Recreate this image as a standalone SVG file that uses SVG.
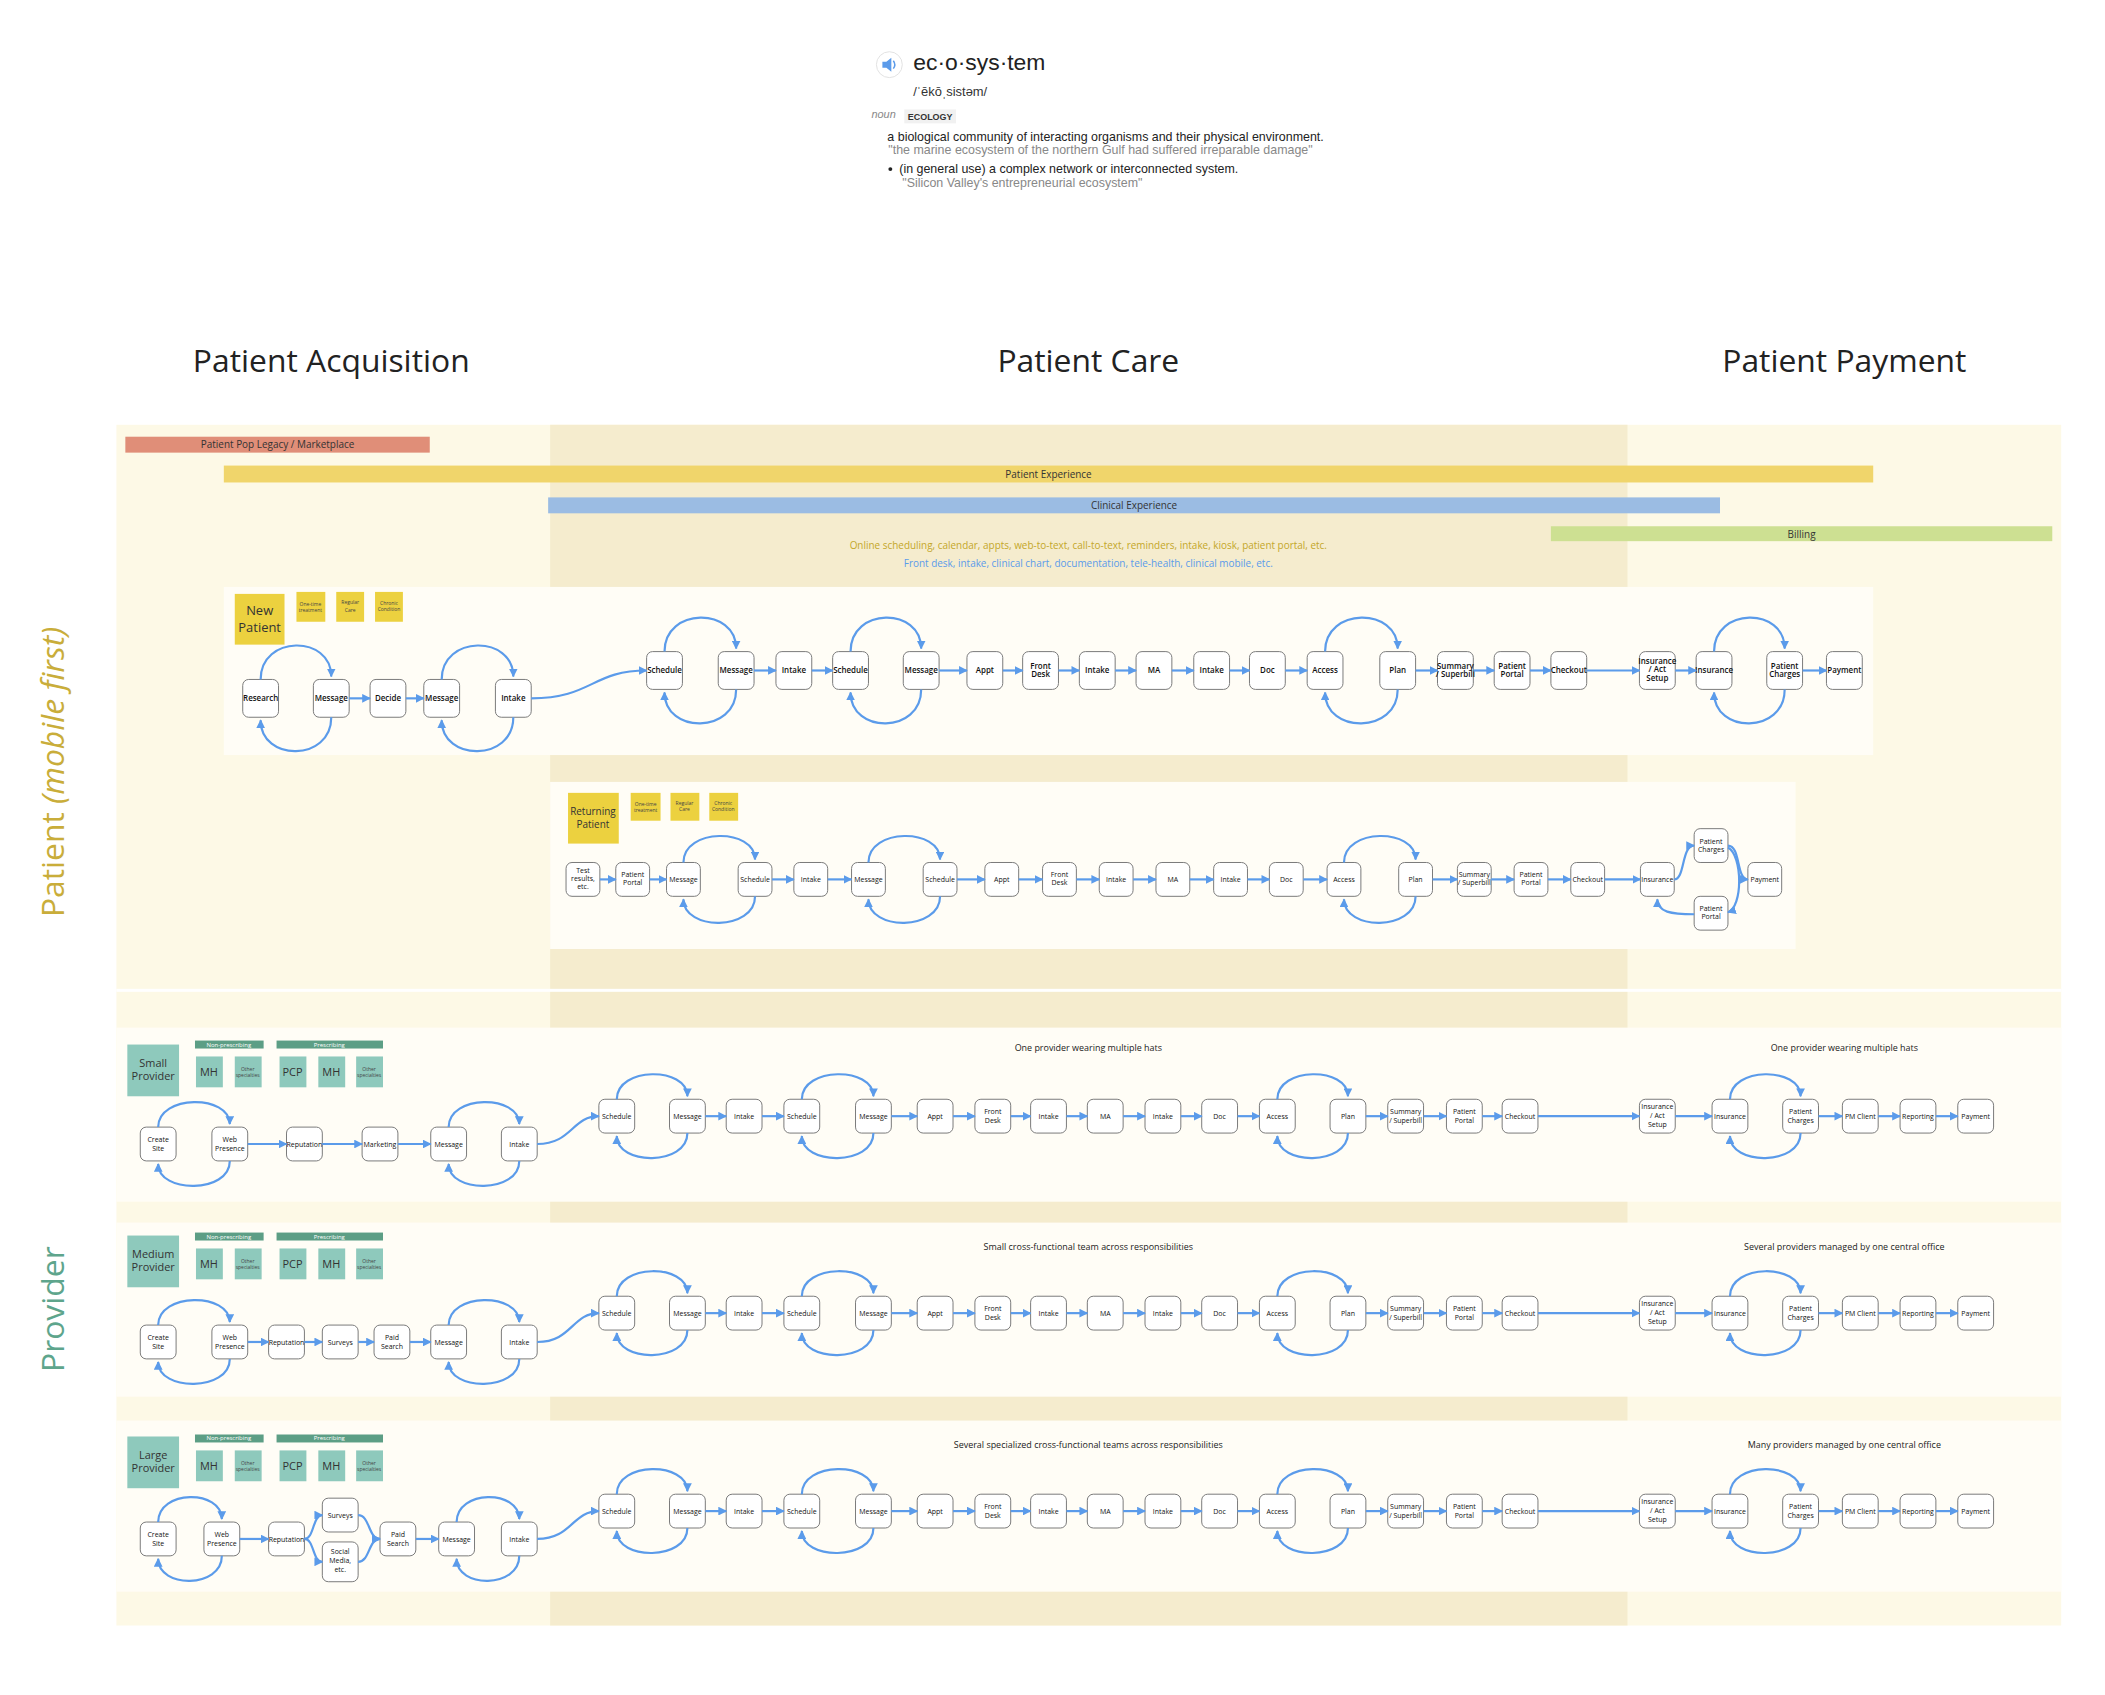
<svg xmlns="http://www.w3.org/2000/svg" width="2105" height="1695" viewBox="0 0 2105 1695">
<style>
text{font-family:"Open Sans","Liberation Sans",sans-serif}
.n rect{fill:#fff;stroke:#7a7a7a;stroke-width:1}
.n text{font-size:7px;fill:#111;text-anchor:middle}
.b text{font-size:8px;font-weight:600}
.c path{fill:none;stroke:#5b9bea;stroke-width:2.2;marker-end:url(#a)}
.st{fill:#ecd13f}
.tl{fill:#8ec9bc}
.tb{fill:#5c9e85}
.sm{font-size:5px;fill:#444;text-anchor:middle}
.md{font-size:11px;fill:#333;text-anchor:middle}
.bt{font-size:6px;fill:#fff;text-anchor:middle}
.lbl{font-size:10px;fill:#333;text-anchor:middle}
.hd{font-size:32px;fill:#222;text-anchor:middle}
.def{font-family:"Liberation Sans",Arial,sans-serif}
</style>
<defs>
<marker id="a" viewBox="0 0 10 10" refX="9" refY="5" markerWidth="4" markerHeight="4" orient="auto"><path d="M0,0L10,5L0,10z" fill="#5b9bea"/></marker>
</defs>
<rect width="2105" height="1695" fill="#fff"/>
<g transform="scale(0.9948)">
<g id="definition" class="def">
<circle cx="894" cy="65" r="13" fill="#fff" stroke="#e2e2e2"/>
<path d="M887,62h4l5,-4v14l-5,-4h-4z" fill="#5b9bea"/>
<path d="M898,61q3,4 0,8" fill="none" stroke="#5b9bea" stroke-width="1.5"/>
<text x="918" y="70" font-size="23" fill="#222" class="def">ec·o·sys·tem</text>
<text x="918" y="97" font-size="13" fill="#333" class="def">/ˈēkōˌsistəm/</text>
<text x="876" y="119" font-size="11" font-style="italic" fill="#888" class="def">noun</text>
<rect x="909" y="110" width="52" height="14" fill="#f1f1f1"/>
<text x="935" y="121" font-size="9" font-weight="bold" fill="#333" text-anchor="middle" class="def">ECOLOGY</text>
<text x="892" y="142" font-size="12.5" fill="#222" class="def">a biological community of interacting organisms and their physical environment.</text>
<text x="893" y="155" font-size="12.5" fill="#888" class="def">"the marine ecosystem of the northern Gulf had suffered irreparable damage"</text>
<circle cx="895" cy="170" r="2" fill="#222"/>
<text x="904" y="174" font-size="12.5" fill="#222" class="def">(in general use) a complex network or interconnected system.</text>
<text x="907" y="188" font-size="12.5" fill="#888" class="def">"Silicon Valley's entrepreneurial ecosystem"</text>
</g>
<g id="headers">
<text class="hd" x="333" y="374">Patient Acquisition</text>
<text class="hd" x="1094" y="374">Patient Care</text>
<text class="hd" x="1854" y="374">Patient Payment</text>
<text transform="translate(64,776) rotate(-90)" font-size="32" fill="#c9ad3a" text-anchor="middle">Patient <tspan font-style="italic">(mobile first)</tspan></text>
<text transform="translate(64,1316) rotate(-90)" font-size="32" fill="#5ea58c" text-anchor="middle">Provider</text>
</g>
<g id="background">
<rect x="117" y="427" width="1955" height="1207" fill="#fdf9e6"/>
<rect x="553" y="427" width="1083" height="1207" fill="#f5ecce"/>
<rect x="117" y="994" width="1955" height="3" fill="#fff"/>
<rect x="225" y="590" width="1658" height="169" fill="#fffdf6"/>
<rect x="553" y="786" width="1252" height="168" fill="#fffdf6"/>
<rect x="117" y="1033" width="1955" height="175" fill="#fffdf6"/>
<rect x="117" y="1229" width="1955" height="175" fill="#fffdf6"/>
<rect x="117" y="1428" width="1955" height="172" fill="#fffdf6"/>
</g>
<g id="bars">
<rect x="126" y="439" width="306" height="16" fill="#e08e78"/>
<text class="lbl" x="279" y="450">Patient Pop Legacy / Marketplace</text>
<rect x="225" y="468" width="1658" height="17" fill="#f0d56b"/>
<text class="lbl" x="1054" y="480">Patient Experience</text>
<rect x="551" y="500" width="1178" height="16" fill="#9bbce3"/>
<text class="lbl" x="1140" y="512">Clinical Experience</text>
<rect x="1559" y="529" width="504" height="15" fill="#cde092"/>
<text class="lbl" x="1811" y="541">Billing</text>
<text x="1094" y="552" font-size="10" fill="#c4a72a" text-anchor="middle">Online scheduling, calendar, appts, web-to-text, call-to-text, reminders, intake, kiosk, patient portal, etc.</text>
<text x="1094" y="570" font-size="10" fill="#5b9bea" text-anchor="middle">Front desk, intake, clinical chart, documentation, tele-health, clinical mobile, etc.</text>
<text x="1094" y="1056" font-size="9" fill="#222" text-anchor="middle">One provider wearing multiple hats</text>
<text x="1854" y="1056" font-size="9" fill="#222" text-anchor="middle">One provider wearing multiple hats</text>
<text x="1094" y="1257" font-size="9" fill="#222" text-anchor="middle">Small cross-functional team across responsibilities</text>
<text x="1854" y="1257" font-size="9" fill="#222" text-anchor="middle">Several providers managed by one central office</text>
<text x="1094" y="1456" font-size="9" fill="#222" text-anchor="middle">Several specialized cross-functional teams across responsibilities</text>
<text x="1854" y="1456" font-size="9" fill="#222" text-anchor="middle">Many providers managed by one central office</text>
</g>
<g id="stickies">
<rect class="st" x="236" y="597" width="50" height="51"/><text x="261" y="618" font-size="13" fill="#333" text-anchor="middle">New<tspan x="261" dy="17">Patient</tspan></text>
<rect class="st" x="298" y="595" width="29" height="30"/><text class="sm" x="312" y="609">One-time<tspan x="312" dy="6">treatment</tspan></text>
<rect class="st" x="338" y="595" width="28" height="30"/><text class="sm" x="352" y="607" font-size="7">Regular<tspan x="352" dy="8">Care</tspan></text>
<rect class="st" x="377" y="595" width="28" height="30"/><text class="sm" x="391" y="608">Chronic<tspan x="391" dy="6">Condition</tspan></text>
<rect class="st" x="571" y="797" width="51" height="51"/><text x="596" y="819" font-size="10" fill="#333" text-anchor="middle">Returning<tspan x="596" dy="13">Patient</tspan></text>
<rect class="st" x="634" y="797" width="30" height="28"/><text class="sm" x="649" y="810">One-time<tspan x="649" dy="6">treatment</tspan></text>
<rect class="st" x="674" y="797" width="29" height="28"/><text class="sm" x="688" y="809">Regular<tspan x="688" dy="6">Care</tspan></text>
<rect class="st" x="713" y="797" width="29" height="28"/><text class="sm" x="727" y="809">Chronic<tspan x="727" dy="6">Condition</tspan></text>
</g>
<g id="provider-stickies">
<g id="ps-small">
<rect class="tl" x="128" y="1050" width="52" height="52"/><text class="md" x="154" y="1073">Small<tspan x="154" dy="13">Provider</tspan></text>
<rect class="tb" x="196" y="1046" width="69" height="8"/><text class="bt" x="230" y="1052">Non-prescribing</text>
<rect class="tb" x="278" y="1046" width="107" height="8"/><text class="bt" x="331" y="1052">Prescribing</text>
<rect class="tl" x="197" y="1062" width="27" height="31"/><text class="md" x="210" y="1082">MH</text>
<rect class="tl" x="236" y="1062" width="27" height="31"/><text class="sm" x="249" y="1077">Other<tspan x="249" dy="6">specialties</tspan></text>
<rect class="tl" x="281" y="1062" width="27" height="31"/><text class="md" x="294" y="1082">PCP</text>
<rect class="tl" x="320" y="1062" width="27" height="31"/><text class="md" x="333" y="1082">MH</text>
<rect class="tl" x="358" y="1062" width="27" height="31"/><text class="sm" x="371" y="1077">Other<tspan x="371" dy="6">specialties</tspan></text>
</g>
<g id="ps-medium">
<rect class="tl" x="128" y="1242" width="52" height="52"/><text class="md" x="154" y="1265">Medium<tspan x="154" dy="13">Provider</tspan></text>
<rect class="tb" x="196" y="1239" width="69" height="8"/><text class="bt" x="230" y="1245">Non-prescribing</text>
<rect class="tb" x="278" y="1239" width="107" height="8"/><text class="bt" x="331" y="1245">Prescribing</text>
<rect class="tl" x="197" y="1255" width="27" height="31"/><text class="md" x="210" y="1275">MH</text>
<rect class="tl" x="236" y="1255" width="27" height="31"/><text class="sm" x="249" y="1270">Other<tspan x="249" dy="6">specialties</tspan></text>
<rect class="tl" x="281" y="1255" width="27" height="31"/><text class="md" x="294" y="1275">PCP</text>
<rect class="tl" x="320" y="1255" width="27" height="31"/><text class="md" x="333" y="1275">MH</text>
<rect class="tl" x="358" y="1255" width="27" height="31"/><text class="sm" x="371" y="1270">Other<tspan x="371" dy="6">specialties</tspan></text>
</g>
<g id="ps-large">
<rect class="tl" x="128" y="1444" width="52" height="52"/><text class="md" x="154" y="1467">Large<tspan x="154" dy="13">Provider</tspan></text>
<rect class="tb" x="196" y="1442" width="69" height="8"/><text class="bt" x="230" y="1448">Non-prescribing</text>
<rect class="tb" x="278" y="1442" width="107" height="8"/><text class="bt" x="331" y="1448">Prescribing</text>
<rect class="tl" x="197" y="1458" width="27" height="31"/><text class="md" x="210" y="1478">MH</text>
<rect class="tl" x="236" y="1458" width="27" height="31"/><text class="sm" x="249" y="1473">Other<tspan x="249" dy="6">specialties</tspan></text>
<rect class="tl" x="281" y="1458" width="27" height="31"/><text class="md" x="294" y="1478">PCP</text>
<rect class="tl" x="320" y="1458" width="27" height="31"/><text class="md" x="333" y="1478">MH</text>
<rect class="tl" x="358" y="1458" width="27" height="31"/><text class="sm" x="371" y="1473">Other<tspan x="371" dy="6">specialties</tspan></text>
</g>
</g>
<g id="new-patient-nodes" class="n b">
<g id="np1"><rect x="244" y="683" width="36" height="38" rx="6"/><text x="262" y="705">Research</text></g>
<g id="np2"><rect x="315" y="683" width="36" height="38" rx="6"/><text x="333" y="705">Message</text></g>
<g id="np3"><rect x="372" y="683" width="36" height="38" rx="6"/><text x="390" y="705">Decide</text></g>
<g id="np4"><rect x="426" y="683" width="36" height="38" rx="6"/><text x="444" y="705">Message</text></g>
<g id="np5"><rect x="498" y="683" width="36" height="38" rx="6"/><text x="516" y="705">Intake</text></g>
<g id="np6"><rect x="650" y="655" width="36" height="38" rx="6"/><text x="668" y="677">Schedule</text></g>
<g id="np7"><rect x="722" y="655" width="36" height="38" rx="6"/><text x="740" y="677">Message</text></g>
<g id="np8"><rect x="780" y="655" width="36" height="38" rx="6"/><text x="798" y="677">Intake</text></g>
<g id="np9"><rect x="837" y="655" width="36" height="38" rx="6"/><text x="855" y="677">Schedule</text></g>
<g id="np10"><rect x="908" y="655" width="36" height="38" rx="6"/><text x="926" y="677">Message</text></g>
<g id="np11"><rect x="972" y="655" width="36" height="38" rx="6"/><text x="990" y="677">Appt</text></g>
<g id="np12"><rect x="1028" y="655" width="36" height="38" rx="6"/><text x="1046" y="672">Front<tspan x="1046" dy="9">Desk</tspan></text></g>
<g id="np13"><rect x="1085" y="655" width="36" height="38" rx="6"/><text x="1103" y="677">Intake</text></g>
<g id="np14"><rect x="1142" y="655" width="36" height="38" rx="6"/><text x="1160" y="677">MA</text></g>
<g id="np15"><rect x="1200" y="655" width="36" height="38" rx="6"/><text x="1218" y="677">Intake</text></g>
<g id="np16"><rect x="1256" y="655" width="36" height="38" rx="6"/><text x="1274" y="677">Doc</text></g>
<g id="np17"><rect x="1314" y="655" width="36" height="38" rx="6"/><text x="1332" y="677">Access</text></g>
<g id="np18"><rect x="1387" y="655" width="36" height="38" rx="6"/><text x="1405" y="677">Plan</text></g>
<g id="np19"><rect x="1445" y="655" width="36" height="38" rx="6"/><text x="1463" y="672" font-size="7">Summary<tspan x="1463" dy="9">/ Superbill</tspan></text></g>
<g id="np20"><rect x="1502" y="655" width="36" height="38" rx="6"/><text x="1520" y="672">Patient<tspan x="1520" dy="9">Portal</tspan></text></g>
<g id="np21"><rect x="1559" y="655" width="36" height="38" rx="6"/><text x="1577" y="677" font-size="7.5">Checkout</text></g>
<g id="np22"><rect x="1648" y="655" width="36" height="38" rx="6"/><text x="1666" y="667" font-size="7">Insurance<tspan x="1666" dy="9">/ Act</tspan><tspan x="1666" dy="9">Setup</tspan></text></g>
<g id="np23"><rect x="1705" y="655" width="36" height="38" rx="6"/><text x="1723" y="677" font-size="7">Insurance</text></g>
<g id="np24"><rect x="1776" y="655" width="36" height="38" rx="6"/><text x="1794" y="672">Patient<tspan x="1794" dy="9">Charges</tspan></text></g>
<g id="np25"><rect x="1836" y="655" width="36" height="38" rx="6"/><text x="1854" y="677">Payment</text></g>
</g>
<g id="returning-nodes" class="n">
<g id="rp1"><rect x="569" y="867" width="34" height="34" rx="6"/><text x="586" y="878">Test<tspan x="586" dy="8">results,</tspan><tspan x="586" dy="8">etc.</tspan></text></g>
<g id="rp2"><rect x="619" y="867" width="34" height="34" rx="6"/><text x="636" y="882">Patient<tspan x="636" dy="8">Portal</tspan></text></g>
<g id="rp3"><rect x="670" y="867" width="34" height="34" rx="6"/><text x="687" y="887">Message</text></g>
<g id="rp4"><rect x="742" y="867" width="34" height="34" rx="6"/><text x="759" y="887">Schedule</text></g>
<g id="rp5"><rect x="798" y="867" width="34" height="34" rx="6"/><text x="815" y="887">Intake</text></g>
<g id="rp6"><rect x="856" y="867" width="34" height="34" rx="6"/><text x="873" y="887">Message</text></g>
<g id="rp7"><rect x="928" y="867" width="34" height="34" rx="6"/><text x="945" y="887">Schedule</text></g>
<g id="rp8"><rect x="990" y="867" width="34" height="34" rx="6"/><text x="1007" y="887">Appt</text></g>
<g id="rp9"><rect x="1048" y="867" width="34" height="34" rx="6"/><text x="1065" y="882">Front<tspan x="1065" dy="8">Desk</tspan></text></g>
<g id="rp10"><rect x="1105" y="867" width="34" height="34" rx="6"/><text x="1122" y="887">Intake</text></g>
<g id="rp11"><rect x="1162" y="867" width="34" height="34" rx="6"/><text x="1179" y="887">MA</text></g>
<g id="rp12"><rect x="1220" y="867" width="34" height="34" rx="6"/><text x="1237" y="887">Intake</text></g>
<g id="rp13"><rect x="1276" y="867" width="34" height="34" rx="6"/><text x="1293" y="887">Doc</text></g>
<g id="rp14"><rect x="1334" y="867" width="34" height="34" rx="6"/><text x="1351" y="887">Access</text></g>
<g id="rp15"><rect x="1406" y="867" width="34" height="34" rx="6"/><text x="1423" y="887">Plan</text></g>
<g id="rp16"><rect x="1465" y="867" width="34" height="34" rx="6"/><text x="1482" y="882">Summary<tspan x="1482" dy="8">/ Superbill</tspan></text></g>
<g id="rp17"><rect x="1522" y="867" width="34" height="34" rx="6"/><text x="1539" y="882">Patient<tspan x="1539" dy="8">Portal</tspan></text></g>
<g id="rp18"><rect x="1579" y="867" width="34" height="34" rx="6"/><text x="1596" y="887">Checkout</text></g>
<g id="rp19"><rect x="1649" y="867" width="34" height="34" rx="6"/><text x="1666" y="887">Insurance</text></g>
<g id="rp20"><rect x="1703" y="833" width="34" height="34" rx="6"/><text x="1720" y="848">Patient<tspan x="1720" dy="8">Charges</tspan></text></g>
<g id="rp21"><rect x="1703" y="901" width="34" height="34" rx="6"/><text x="1720" y="916">Patient<tspan x="1720" dy="8">Portal</tspan></text></g>
<g id="rp22"><rect x="1757" y="867" width="34" height="34" rx="6"/><text x="1774" y="887">Payment</text></g>
</g>
<g id="small-nodes" class="n">
<g id="sp1"><rect x="141" y="1133" width="36" height="34" rx="6"/><text x="159" y="1148">Create<tspan x="159" dy="9">Site</tspan></text></g>
<g id="sp2"><rect x="213" y="1133" width="36" height="34" rx="6"/><text x="231" y="1148">Web<tspan x="231" dy="9">Presence</tspan></text></g>
<g id="sp3"><rect x="288" y="1133" width="36" height="34" rx="6"/><text x="306" y="1153">Reputation</text></g>
<g id="sp4"><rect x="364" y="1133" width="36" height="34" rx="6"/><text x="382" y="1153">Marketing</text></g>
<g id="sp5"><rect x="433" y="1133" width="36" height="34" rx="6"/><text x="451" y="1153">Message</text></g>
<g id="sp6"><rect x="504" y="1133" width="36" height="34" rx="6"/><text x="522" y="1153">Intake</text></g>
<g id="sp7"><rect x="602" y="1105" width="36" height="34" rx="6"/><text x="620" y="1125">Schedule</text></g>
<g id="sp8"><rect x="673" y="1105" width="36" height="34" rx="6"/><text x="691" y="1125">Message</text></g>
<g id="sp9"><rect x="730" y="1105" width="36" height="34" rx="6"/><text x="748" y="1125">Intake</text></g>
<g id="sp10"><rect x="788" y="1105" width="36" height="34" rx="6"/><text x="806" y="1125">Schedule</text></g>
<g id="sp11"><rect x="860" y="1105" width="36" height="34" rx="6"/><text x="878" y="1125">Message</text></g>
<g id="sp12"><rect x="922" y="1105" width="36" height="34" rx="6"/><text x="940" y="1125">Appt</text></g>
<g id="sp13"><rect x="980" y="1105" width="36" height="34" rx="6"/><text x="998" y="1120">Front<tspan x="998" dy="9">Desk</tspan></text></g>
<g id="sp14"><rect x="1036" y="1105" width="36" height="34" rx="6"/><text x="1054" y="1125">Intake</text></g>
<g id="sp15"><rect x="1093" y="1105" width="36" height="34" rx="6"/><text x="1111" y="1125">MA</text></g>
<g id="sp16"><rect x="1151" y="1105" width="36" height="34" rx="6"/><text x="1169" y="1125">Intake</text></g>
<g id="sp17"><rect x="1208" y="1105" width="36" height="34" rx="6"/><text x="1226" y="1125">Doc</text></g>
<g id="sp18"><rect x="1266" y="1105" width="36" height="34" rx="6"/><text x="1284" y="1125">Access</text></g>
<g id="sp19"><rect x="1337" y="1105" width="36" height="34" rx="6"/><text x="1355" y="1125">Plan</text></g>
<g id="sp20"><rect x="1395" y="1105" width="36" height="34" rx="6"/><text x="1413" y="1120">Summary<tspan x="1413" dy="9">/ Superbill</tspan></text></g>
<g id="sp21"><rect x="1454" y="1105" width="36" height="34" rx="6"/><text x="1472" y="1120">Patient<tspan x="1472" dy="9">Portal</tspan></text></g>
<g id="sp22"><rect x="1510" y="1105" width="36" height="34" rx="6"/><text x="1528" y="1125">Checkout</text></g>
<g id="sp23"><rect x="1648" y="1105" width="36" height="34" rx="6"/><text x="1666" y="1115">Insurance<tspan x="1666" dy="9">/ Act</tspan><tspan x="1666" dy="9">Setup</tspan></text></g>
<g id="sp24"><rect x="1721" y="1105" width="36" height="34" rx="6"/><text x="1739" y="1125">Insurance</text></g>
<g id="sp25"><rect x="1792" y="1105" width="36" height="34" rx="6"/><text x="1810" y="1120">Patient<tspan x="1810" dy="9">Charges</tspan></text></g>
<g id="sp26"><rect x="1852" y="1105" width="36" height="34" rx="6"/><text x="1870" y="1125">PM Client</text></g>
<g id="sp27"><rect x="1910" y="1105" width="36" height="34" rx="6"/><text x="1928" y="1125">Reporting</text></g>
<g id="sp28"><rect x="1968" y="1105" width="36" height="34" rx="6"/><text x="1986" y="1125">Payment</text></g>
</g>
<g id="medium-nodes" class="n">
<g id="mp1"><rect x="141" y="1332" width="36" height="34" rx="6"/><text x="159" y="1347">Create<tspan x="159" dy="9">Site</tspan></text></g>
<g id="mp2"><rect x="213" y="1332" width="36" height="34" rx="6"/><text x="231" y="1347">Web<tspan x="231" dy="9">Presence</tspan></text></g>
<g id="mp3"><rect x="270" y="1332" width="36" height="34" rx="6"/><text x="288" y="1352">Reputation</text></g>
<g id="mp4"><rect x="324" y="1332" width="36" height="34" rx="6"/><text x="342" y="1352">Surveys</text></g>
<g id="mp5"><rect x="376" y="1332" width="36" height="34" rx="6"/><text x="394" y="1347">Paid<tspan x="394" dy="9">Search</tspan></text></g>
<g id="mp6"><rect x="433" y="1332" width="36" height="34" rx="6"/><text x="451" y="1352">Message</text></g>
<g id="mp7"><rect x="504" y="1332" width="36" height="34" rx="6"/><text x="522" y="1352">Intake</text></g>
<g id="mp8"><rect x="602" y="1303" width="36" height="34" rx="6"/><text x="620" y="1323">Schedule</text></g>
<g id="mp9"><rect x="673" y="1303" width="36" height="34" rx="6"/><text x="691" y="1323">Message</text></g>
<g id="mp10"><rect x="730" y="1303" width="36" height="34" rx="6"/><text x="748" y="1323">Intake</text></g>
<g id="mp11"><rect x="788" y="1303" width="36" height="34" rx="6"/><text x="806" y="1323">Schedule</text></g>
<g id="mp12"><rect x="860" y="1303" width="36" height="34" rx="6"/><text x="878" y="1323">Message</text></g>
<g id="mp13"><rect x="922" y="1303" width="36" height="34" rx="6"/><text x="940" y="1323">Appt</text></g>
<g id="mp14"><rect x="980" y="1303" width="36" height="34" rx="6"/><text x="998" y="1318">Front<tspan x="998" dy="9">Desk</tspan></text></g>
<g id="mp15"><rect x="1036" y="1303" width="36" height="34" rx="6"/><text x="1054" y="1323">Intake</text></g>
<g id="mp16"><rect x="1093" y="1303" width="36" height="34" rx="6"/><text x="1111" y="1323">MA</text></g>
<g id="mp17"><rect x="1151" y="1303" width="36" height="34" rx="6"/><text x="1169" y="1323">Intake</text></g>
<g id="mp18"><rect x="1208" y="1303" width="36" height="34" rx="6"/><text x="1226" y="1323">Doc</text></g>
<g id="mp19"><rect x="1266" y="1303" width="36" height="34" rx="6"/><text x="1284" y="1323">Access</text></g>
<g id="mp20"><rect x="1337" y="1303" width="36" height="34" rx="6"/><text x="1355" y="1323">Plan</text></g>
<g id="mp21"><rect x="1395" y="1303" width="36" height="34" rx="6"/><text x="1413" y="1318">Summary<tspan x="1413" dy="9">/ Superbill</tspan></text></g>
<g id="mp22"><rect x="1454" y="1303" width="36" height="34" rx="6"/><text x="1472" y="1318">Patient<tspan x="1472" dy="9">Portal</tspan></text></g>
<g id="mp23"><rect x="1510" y="1303" width="36" height="34" rx="6"/><text x="1528" y="1323">Checkout</text></g>
<g id="mp24"><rect x="1648" y="1303" width="36" height="34" rx="6"/><text x="1666" y="1313">Insurance<tspan x="1666" dy="9">/ Act</tspan><tspan x="1666" dy="9">Setup</tspan></text></g>
<g id="mp25"><rect x="1721" y="1303" width="36" height="34" rx="6"/><text x="1739" y="1323">Insurance</text></g>
<g id="mp26"><rect x="1792" y="1303" width="36" height="34" rx="6"/><text x="1810" y="1318">Patient<tspan x="1810" dy="9">Charges</tspan></text></g>
<g id="mp27"><rect x="1852" y="1303" width="36" height="34" rx="6"/><text x="1870" y="1323">PM Client</text></g>
<g id="mp28"><rect x="1910" y="1303" width="36" height="34" rx="6"/><text x="1928" y="1323">Reporting</text></g>
<g id="mp29"><rect x="1968" y="1303" width="36" height="34" rx="6"/><text x="1986" y="1323">Payment</text></g>
</g>
<g id="large-nodes" class="n">
<g id="lp1"><rect x="141" y="1530" width="36" height="34" rx="6"/><text x="159" y="1545">Create<tspan x="159" dy="9">Site</tspan></text></g>
<g id="lp2"><rect x="205" y="1530" width="36" height="34" rx="6"/><text x="223" y="1545">Web<tspan x="223" dy="9">Presence</tspan></text></g>
<g id="lp3"><rect x="270" y="1530" width="36" height="34" rx="6"/><text x="288" y="1550">Reputation</text></g>
<g id="lp4"><rect x="324" y="1506" width="36" height="34" rx="6"/><text x="342" y="1526">Surveys</text></g>
<g id="lp5"><rect x="324" y="1550" width="36" height="40" rx="6"/><text x="342" y="1562">Social<tspan x="342" dy="9">Media,</tspan><tspan x="342" dy="9">etc.</tspan></text></g>
<g id="lp6"><rect x="382" y="1530" width="36" height="34" rx="6"/><text x="400" y="1545">Paid<tspan x="400" dy="9">Search</tspan></text></g>
<g id="lp7"><rect x="441" y="1530" width="36" height="34" rx="6"/><text x="459" y="1550">Message</text></g>
<g id="lp8"><rect x="504" y="1530" width="36" height="34" rx="6"/><text x="522" y="1550">Intake</text></g>
<g id="lp9"><rect x="602" y="1502" width="36" height="34" rx="6"/><text x="620" y="1522">Schedule</text></g>
<g id="lp10"><rect x="673" y="1502" width="36" height="34" rx="6"/><text x="691" y="1522">Message</text></g>
<g id="lp11"><rect x="730" y="1502" width="36" height="34" rx="6"/><text x="748" y="1522">Intake</text></g>
<g id="lp12"><rect x="788" y="1502" width="36" height="34" rx="6"/><text x="806" y="1522">Schedule</text></g>
<g id="lp13"><rect x="860" y="1502" width="36" height="34" rx="6"/><text x="878" y="1522">Message</text></g>
<g id="lp14"><rect x="922" y="1502" width="36" height="34" rx="6"/><text x="940" y="1522">Appt</text></g>
<g id="lp15"><rect x="980" y="1502" width="36" height="34" rx="6"/><text x="998" y="1517">Front<tspan x="998" dy="9">Desk</tspan></text></g>
<g id="lp16"><rect x="1036" y="1502" width="36" height="34" rx="6"/><text x="1054" y="1522">Intake</text></g>
<g id="lp17"><rect x="1093" y="1502" width="36" height="34" rx="6"/><text x="1111" y="1522">MA</text></g>
<g id="lp18"><rect x="1151" y="1502" width="36" height="34" rx="6"/><text x="1169" y="1522">Intake</text></g>
<g id="lp19"><rect x="1208" y="1502" width="36" height="34" rx="6"/><text x="1226" y="1522">Doc</text></g>
<g id="lp20"><rect x="1266" y="1502" width="36" height="34" rx="6"/><text x="1284" y="1522">Access</text></g>
<g id="lp21"><rect x="1337" y="1502" width="36" height="34" rx="6"/><text x="1355" y="1522">Plan</text></g>
<g id="lp22"><rect x="1395" y="1502" width="36" height="34" rx="6"/><text x="1413" y="1517">Summary<tspan x="1413" dy="9">/ Superbill</tspan></text></g>
<g id="lp23"><rect x="1454" y="1502" width="36" height="34" rx="6"/><text x="1472" y="1517">Patient<tspan x="1472" dy="9">Portal</tspan></text></g>
<g id="lp24"><rect x="1510" y="1502" width="36" height="34" rx="6"/><text x="1528" y="1522">Checkout</text></g>
<g id="lp25"><rect x="1648" y="1502" width="36" height="34" rx="6"/><text x="1666" y="1512">Insurance<tspan x="1666" dy="9">/ Act</tspan><tspan x="1666" dy="9">Setup</tspan></text></g>
<g id="lp26"><rect x="1721" y="1502" width="36" height="34" rx="6"/><text x="1739" y="1522">Insurance</text></g>
<g id="lp27"><rect x="1792" y="1502" width="36" height="34" rx="6"/><text x="1810" y="1517">Patient<tspan x="1810" dy="9">Charges</tspan></text></g>
<g id="lp28"><rect x="1852" y="1502" width="36" height="34" rx="6"/><text x="1870" y="1522">PM Client</text></g>
<g id="lp29"><rect x="1910" y="1502" width="36" height="34" rx="6"/><text x="1928" y="1522">Reporting</text></g>
<g id="lp30"><rect x="1968" y="1502" width="36" height="34" rx="6"/><text x="1986" y="1522">Payment</text></g>
</g>
<g id="connectors" class="c">
<path d="M262,683C262,638 333,638 333,680"/><path d="M333,721C333,766 262,766 262,724"/>
<path d="M351,702H372"/><path d="M408,702H426"/>
<path d="M444,683C444,638 516,638 516,680"/><path d="M516,721C516,766 444,766 444,724"/>
<path d="M534,702C595,702 595,674 650,674"/>
<path d="M668,655C668,610 740,610 740,652"/><path d="M740,693C740,738 668,738 668,696"/>
<path d="M855,655C855,610 926,610 926,652"/><path d="M926,693C926,738 855,738 855,696"/>
<path d="M1332,655C1332,610 1405,610 1405,652"/><path d="M1405,693C1405,738 1332,738 1332,696"/>
<path d="M1723,655C1723,610 1794,610 1794,652"/><path d="M1794,693C1794,738 1723,738 1723,696"/>
<path d="M758,674H780"/><path d="M816,674H837"/><path d="M944,674H972"/><path d="M1008,674H1028"/><path d="M1064,674H1085"/><path d="M1121,674H1142"/><path d="M1178,674H1200"/><path d="M1236,674H1256"/><path d="M1292,674H1314"/><path d="M1423,674H1445"/><path d="M1481,674H1502"/><path d="M1538,674H1559"/><path d="M1595,674H1648"/><path d="M1684,674H1705"/><path d="M1812,674H1836"/>
<path d="M603,884H619"/><path d="M653,884H670"/><path d="M776,884H798"/><path d="M832,884H856"/><path d="M962,884H990"/><path d="M1024,884H1048"/><path d="M1082,884H1105"/><path d="M1139,884H1162"/><path d="M1196,884H1220"/><path d="M1254,884H1276"/><path d="M1310,884H1334"/><path d="M1440,884H1465"/><path d="M1499,884H1522"/><path d="M1556,884H1579"/><path d="M1613,884H1649"/>
<path d="M687,867C687,832 759,832 759,864"/><path d="M759,901C759,936 687,936 687,904"/>
<path d="M873,867C873,832 945,832 945,864"/><path d="M945,901C945,936 873,936 873,904"/>
<path d="M1351,867C1351,832 1423,832 1423,864"/><path d="M1423,901C1423,936 1351,936 1351,904"/>
<path d="M1683,884C1694,884 1690,850 1703,850"/><path d="M1737,850C1750,850 1745,884 1757,884"/>
<path d="M1737,852C1752,860 1752,912 1737,917"/><path d="M1703,919C1680,919 1666,917 1666,904"/>
<path d="M159,1133C159,1100 231,1100 231,1130"/><path d="M231,1167C231,1200 159,1200 159,1170"/>
<path d="M249,1150H288"/><path d="M324,1150H364"/><path d="M400,1150H433"/>
<path d="M451,1133C451,1100 522,1100 522,1130"/><path d="M522,1167C522,1200 451,1200 451,1170"/>
<path d="M540,1150C575,1150 575,1122 602,1122"/>
<path d="M620,1105C620,1072 691,1072 691,1102"/><path d="M691,1139C691,1172 620,1172 620,1142"/>
<path d="M806,1105C806,1072 878,1072 878,1102"/><path d="M878,1139C878,1172 806,1172 806,1142"/>
<path d="M1284,1105C1284,1072 1355,1072 1355,1102"/><path d="M1355,1139C1355,1172 1284,1172 1284,1142"/>
<path d="M1739,1105C1739,1072 1810,1072 1810,1102"/><path d="M1810,1139C1810,1172 1739,1172 1739,1142"/>
<path d="M709,1122H730"/><path d="M766,1122H788"/><path d="M896,1122H922"/><path d="M958,1122H980"/><path d="M1016,1122H1036"/><path d="M1072,1122H1093"/><path d="M1129,1122H1151"/><path d="M1187,1122H1208"/><path d="M1244,1122H1266"/><path d="M1373,1122H1395"/><path d="M1431,1122H1454"/><path d="M1490,1122H1510"/><path d="M1546,1122H1648"/><path d="M1684,1122H1721"/><path d="M1828,1122H1852"/><path d="M1888,1122H1910"/><path d="M1946,1122H1968"/>
<path d="M159,1332C159,1299 231,1299 231,1329"/><path d="M231,1366C231,1399 159,1399 159,1369"/>
<path d="M249,1349H270"/><path d="M306,1349H324"/><path d="M360,1349H376"/><path d="M412,1349H433"/>
<path d="M451,1332C451,1299 522,1299 522,1329"/><path d="M522,1366C522,1399 451,1399 451,1369"/>
<path d="M540,1349C575,1349 575,1320 602,1320"/>
<path d="M620,1303C620,1270 691,1270 691,1300"/><path d="M691,1337C691,1370 620,1370 620,1340"/>
<path d="M806,1303C806,1270 878,1270 878,1300"/><path d="M878,1337C878,1370 806,1370 806,1340"/>
<path d="M1284,1303C1284,1270 1355,1270 1355,1300"/><path d="M1355,1337C1355,1370 1284,1370 1284,1340"/>
<path d="M1739,1303C1739,1270 1810,1270 1810,1300"/><path d="M1810,1337C1810,1370 1739,1370 1739,1340"/>
<path d="M709,1320H730"/><path d="M766,1320H788"/><path d="M896,1320H922"/><path d="M958,1320H980"/><path d="M1016,1320H1036"/><path d="M1072,1320H1093"/><path d="M1129,1320H1151"/><path d="M1187,1320H1208"/><path d="M1244,1320H1266"/><path d="M1373,1320H1395"/><path d="M1431,1320H1454"/><path d="M1490,1320H1510"/><path d="M1546,1320H1648"/><path d="M1684,1320H1721"/><path d="M1828,1320H1852"/><path d="M1888,1320H1910"/><path d="M1946,1320H1968"/>
<path d="M159,1530C159,1497 223,1497 223,1527"/><path d="M223,1564C223,1597 159,1597 159,1567"/>
<path d="M241,1547H270"/>
<path d="M306,1547C316,1547 314,1523 324,1523"/><path d="M306,1547C316,1547 314,1570 324,1570"/>
<path d="M360,1523C372,1523 370,1547 382,1547"/><path d="M360,1570C372,1570 370,1547 382,1547"/>
<path d="M418,1547H441"/>
<path d="M459,1530C459,1497 522,1497 522,1527"/><path d="M522,1564C522,1597 459,1597 459,1567"/>
<path d="M540,1547C575,1547 575,1519 602,1519"/>
<path d="M620,1502C620,1469 691,1469 691,1499"/><path d="M691,1536C691,1569 620,1569 620,1539"/>
<path d="M806,1502C806,1469 878,1469 878,1499"/><path d="M878,1536C878,1569 806,1569 806,1539"/>
<path d="M1284,1502C1284,1469 1355,1469 1355,1499"/><path d="M1355,1536C1355,1569 1284,1569 1284,1539"/>
<path d="M1739,1502C1739,1469 1810,1469 1810,1499"/><path d="M1810,1536C1810,1569 1739,1569 1739,1539"/>
<path d="M709,1519H730"/><path d="M766,1519H788"/><path d="M896,1519H922"/><path d="M958,1519H980"/><path d="M1016,1519H1036"/><path d="M1072,1519H1093"/><path d="M1129,1519H1151"/><path d="M1187,1519H1208"/><path d="M1244,1519H1266"/><path d="M1373,1519H1395"/><path d="M1431,1519H1454"/><path d="M1490,1519H1510"/><path d="M1546,1519H1648"/><path d="M1684,1519H1721"/><path d="M1828,1519H1852"/><path d="M1888,1519H1910"/><path d="M1946,1519H1968"/>
</g>
</g>
</svg>
